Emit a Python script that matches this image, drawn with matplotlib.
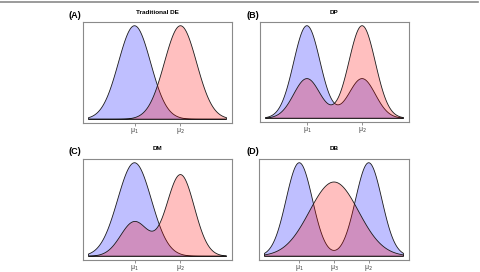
import numpy as np
import matplotlib
matplotlib.use('Agg')
import matplotlib.pyplot as plt
from matplotlib.lines import Line2D

plt.rcParams['font.family'] = ['Liberation Sans', 'DejaVu Sans']

# panel text
panel_tags = ['(A)', '(B)', '(C)', '(D)']
panel_titles = ['Traditional DE', 'DP', 'DM', 'DB']

# x range of each density curve
x_ranges = [(-3.0, 6.0), (-2.25, 5.25), (-3.0, 6.0), (-1.5, 4.5)]

# ticks on the x axis
tick_pos = [[0, 3], [0, 3], [0, 3], [0, 1.5, 3]]
tick_labels = [['μ$_1$', 'μ$_2$'], ['μ$_1$', 'μ$_2$'],
               ['μ$_1$', 'μ$_2$'], ['μ$_1$', 'μ$_3$', 'μ$_2$']]

# mixture components: (height, mean, sd)
blue_parts = [
    [(1.0, 0.0, 1.05)],
    [(0.7, 0.0, 0.72), (0.3, 3.0, 0.72)],
    [(1.0, 0.0, 1.1)],
    [(1.0, 0.0, 0.57), (1.0, 3.0, 0.57)],
]
red_parts = [
    [(1.0, 3.0, 1.05)],
    [(0.3, 0.0, 0.72), (0.7, 3.0, 0.72)],
    [(0.369, 0.0, 0.9), (0.872, 3.0, 0.9)],
    [(0.794, 1.5, 1.06)],
]

# axes boxes in pixels (left, top, right, bottom) on a 480x272 canvas
boxes = [(83, 22, 232, 123), (260, 22, 409, 122),
         (83, 159, 232, 260), (259, 159, 409, 260)]
tag_xy = [(75, 15), (253, 15), (75, 152), (253, 152)]

W, H = 480, 272
fig = plt.figure(figsize=(4.8, 2.72), dpi=100)

def curve(parts, x):
    y = np.zeros_like(x)
    for a, m, s in parts:
        y += a * np.exp(-(x - m) ** 2 / (2 * s * s))
    return y

for i in range(4):
    l, t, r, b = boxes[i]
    ax = fig.add_axes([l / W, 1 - b / H, (r - l) / W, (b - t) / H])
    x0, x1 = x_ranges[i]
    x = np.linspace(x0, x1, 400)
    yb = curve(blue_parts[i], x)
    yr = curve(red_parts[i], x)
    for y, col in [(yb, (0, 0, 1, 0.25)), (yr, (1, 0, 0, 0.25))]:
        xs = np.r_[x[0], x, x[-1]]
        ys = np.r_[0, y, 0]
        ax.fill(xs, ys, fc=col, ec='#1a1a1a', lw=0.6)
    ymax = max(yb.max(), yr.max())
    pad = 0.04 * (x1 - x0)
    ax.set_xlim(x0 - pad, x1 + pad)
    ax.set_ylim(-0.04 * ymax, 1.04 * ymax)
    ax.set_yticks([])
    ax.set_xticks(tick_pos[i])
    ax.set_xticklabels(tick_labels[i], fontsize=5, color='#444444')
    ax.tick_params(axis='x', length=2, width=0.5, color='#666666', pad=0.2)
    for sp in ax.spines.values():
        sp.set_color('#8a8a8a')
        sp.set_linewidth(0.8)
    fig.text((l + r) / 2 / W, 1 - (t - 10) / H, panel_titles[i],
             fontsize=4.6, fontweight='bold', ha='center', va='center')
    fig.text(tag_xy[i][0] / W, 1 - tag_xy[i][1] / H, panel_tags[i],
             fontsize=6.5, fontweight='bold', ha='center', va='center')

fig.add_artist(Line2D([0, 478 / W], [1 - 2 / H, 1 - 2 / H],
                      color='#8a8a8a', lw=1.2))

fig.savefig('out.png', dpi=100)
